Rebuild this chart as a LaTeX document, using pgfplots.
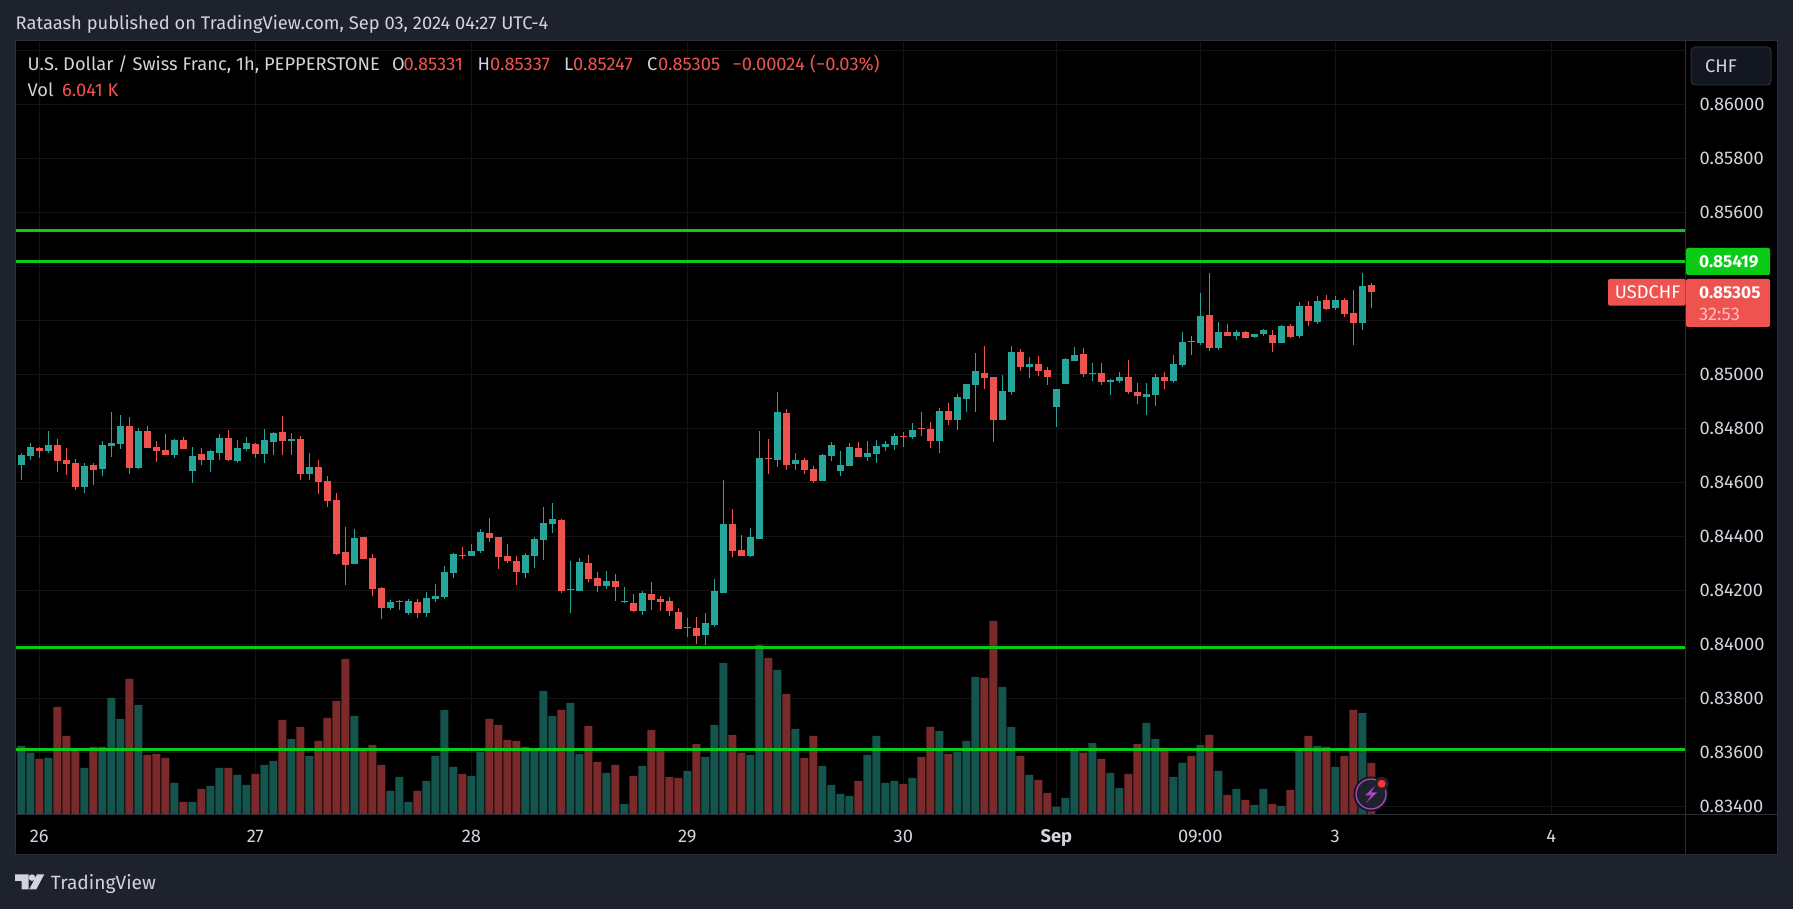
\documentclass[border=0pt]{standalone}
\usepackage{fontspec}
\setmainfont{Fira Sans}
\usepackage{pgfplots}
\usepackage{pgfplotstable}
\pgfplotsset{compat=1.18}
\usetikzlibrary{calc}

\definecolor{panelbg}{RGB}{30,34,45}
\definecolor{frameln}{RGB}{42,46,57}
\definecolor{gridln}{RGB}{20,20,20}
\definecolor{upc}{RGB}{38,166,154}
\definecolor{dnc}{RGB}{239,83,80}
\definecolor{upv}{RGB}{21,83,77}
\definecolor{dnv}{RGB}{122,42,42}
\definecolor{lvl}{RGB}{10,204,22}
\definecolor{txt}{RGB}{209,212,220}
\definecolor{boltc}{RGB}{171,71,188}

% i open high low close volume  (prices in 1e-5)
\pgfplotstableread{
i o h l c v
0 84664 84709 84609 84701 8058
1 84698 84746 84683 84731 7229
3 84716 84790 84709 84738 6636
7 84583 84672 84561 84661 5451
9 84649 84753 84623 84738 7940
10 84735 84861 84694 84746 13746
11 84742 84849 84723 84809 11258
13 84653 84801 84649 84790 12917
17 84701 84761 84690 84757 3674
19 84642 84731 84598 84698 1422
21 84683 84720 84638 84716 3318
22 84709 84779 84683 84764 5451
24 84679 84757 84672 84727 4622
25 84723 84768 84716 84746 3437
27 84705 84798 84672 84757 5807
28 84749 84786 84701 84783 6281
30 84753 84783 84701 84761 8888
32 84631 84709 84609 84657 6873
37 84298 84427 84298 84394 11613
41 84135 84164 84127 84157 2726
42 84157 84164 84127 84160 4385
43 84116 84168 84109 84160 1422
45 84116 84194 84101 84172 3911
46 84168 84224 84157 84179 6873
47 84175 84290 84168 84268 12324
48 84264 84338 84246 84335 5570
50 84327 84372 84327 84346 4503
51 84346 84427 84338 84416 7347
56 84264 84338 84246 84331 7940
57 84327 84398 84283 84390 7584
58 84386 84509 84312 84449 14576
59 84446 84524 84412 84464 11613
61 84201 84309 84116 84205 13154
62 84198 84320 84198 84305 7110
65 84216 84272 84205 84235 4859
67 84157 84212 84153 84160 1185
69 84123 84198 84109 84190 5688
74 84060 84097 84027 84064 5096
76 84035 84116 83998 84079 6755
77 84072 84242 84064 84198 10547
78 84190 84609 84190 84446 17894
81 84327 84431 84323 84398 6992
82 84390 84790 84390 84690 20027
84 84683 84935 84657 84860 17064
86 84668 84709 84646 84683 10073
89 84605 84705 84605 84701 5688
90 84697 84749 84679 84738 3437
91 84642 84716 84623 84664 2370
92 84660 84746 84660 84731 2133
94 84694 84753 84679 84709 6992
95 84705 84757 84672 84735 9243
96 84731 84753 84716 84742 3674
97 84738 84783 84720 84772 3911
99 84768 84820 84760 84794 4266
102 84753 84875 84709 84864 9836
104 84831 84927 84794 84916 7347
105 84909 84964 84860 84964 8651
106 84960 85079 84860 85012 16235
109 84831 84998 84831 84938 15050
110 84935 85105 84924 85083 10310
112 85027 85064 84986 85038 4622
115 84879 84946 84805 84946 830
116 84964 85060 84964 85057 1896
117 85049 85101 85049 85072 7584
119 85001 85042 84975 85005 8414
121 84972 84983 84924 84979 4859
122 84975 85009 84968 84990 3081
125 84916 84968 84849 84927 10784
126 84924 85001 84883 84990 8888
128 84975 85072 84968 85038 4385
129 85035 85157 85027 85120 6044
131 85116 85301 85109 85216 8177
133 85098 85194 85090 85157 5096
135 85142 85164 85127 85157 2963
137 85138 85149 85135 85149 1067
138 85149 85168 85142 85164 2963
140 85116 85183 85116 85179 948
142 85142 85268 85135 85253 7584
144 85194 85290 85186 85272 8058
146 85246 85290 85238 85275 5570
149 85190 85375 85164 85327 11969
}\upc

\pgfplotstableread{
i o h l c v
2 84727 84731 84690 84716 6518
4 84738 84761 84638 84679 12680
5 84683 84727 84627 84668 9243
6 84672 84686 84572 84583 7584
8 84664 84672 84590 84646 7940
12 84809 84842 84631 84653 15998
14 84790 84809 84727 84727 6992
15 84731 84753 84675 84716 7110
16 84720 84779 84701 84701 6636
18 84757 84768 84723 84723 1422
20 84705 84727 84664 84683 2963
23 84764 84794 84679 84683 5451
26 84742 84746 84690 84705 4740
29 84786 84846 84701 84753 11139
31 84761 84772 84609 84631 10310
33 84657 84683 84557 84601 8651
34 84605 84623 84509 84531 11376
35 84535 84561 84331 84335 13391
36 84342 84435 84220 84294 18368
38 84398 84398 84316 84316 7584
39 84320 84335 84179 84205 8177
40 84209 84212 84094 84135 5807
44 84157 84168 84097 84116 2726
49 84331 84361 84316 84327 4740
52 84412 84468 84379 84394 11258
53 84398 84398 84279 84323 10547
54 84327 84372 84301 84309 8769
55 84309 84327 84220 84268 8651
60 84461 84464 84190 84198 12324
63 84301 84331 84231 84242 10428
64 84246 84268 84194 84216 6162
66 84235 84261 84160 84212 5807
68 84153 84186 84120 84123 4503
70 84186 84231 84127 84164 9954
71 84168 84179 84123 84157 7584
72 84160 84175 84105 84123 4385
73 84120 84135 84057 84057 4266
75 84060 84101 84001 84031 8295
79 84446 84501 84323 84346 9362
80 84349 84405 84327 84327 7229
83 84690 84760 84631 84686 18486
85 84857 84872 84646 84664 14220
87 84683 84690 84631 84646 6636
88 84649 84660 84597 84605 9243
93 84727 84749 84694 84694 3911
98 84772 84786 84731 84768 3555
100 84801 84860 84772 84797 6755
101 84797 84823 84727 84753 10310
103 84864 84894 84812 84831 7110
107 85005 85105 84946 84986 16116
108 84990 84990 84749 84831 22871
111 85083 85094 85012 85027 6873
113 85038 85068 84994 85012 4029
114 85016 85027 84960 84990 2489
118 85075 85098 84990 85001 7229
120 85005 85042 84960 84972 6518
123 84990 85053 84927 84935 4740
124 84935 84968 84890 84920 8295
127 84990 85009 84946 84975 7584
130 85124 85142 85072 85120 6873
132 85220 85375 85086 85098 9362
134 85157 85186 85142 85142 2252
136 85157 85160 85135 85135 1659
139 85146 85164 85083 85116 1185
141 85179 85186 85135 85138 2844
143 85253 85272 85179 85198 9243
145 85275 85294 85238 85242 7940
147 85275 85283 85212 85224 6873
148 85227 85312 85109 85190 12324
150 85331 85337 85247 85305 6041
}\dnc

\pgfplotsset{
  chartbox/.style={
    at={(16pt,95pt)}, anchor=south west, scale only axis,
    width=1669.5pt, height=772pt,
    xmin=-0.592, xmax=184.91,
  },
  wick/.style={draw=none, mark=none, forget plot,
    error bars/.cd, y dir=both, y explicit, error mark=none,
    error bar style={line width=1pt, draw=#1}},
  body/.style={draw=none, mark=none, forget plot,
    error bars/.cd, y dir=both, y explicit, error mark=none,
    error bar style={line width=7pt, draw=#1}},
}

\begin{document}
\begin{tikzpicture}
\path[use as bounding box] (0,0) rectangle (1793pt,909pt);
\fill[panelbg] (0,0) rectangle (1793pt,909pt);
\begin{scope}[shift={(0,909pt)},x=1pt,y=-1pt]
  \fill[black] (15.5,40.5) rectangle (1777,855);
  \draw[frameln,line width=1pt] (15.5,40.5) rectangle (1777,855);
\end{scope}

% price scale: grid and tick labels
\begin{axis}[chartbox,
  ymin=83371.5, ymax=86230.7,
  axis line style={draw=none},
  major tick length=0pt,
  scaled y ticks=false,
  grid=major, grid style={gridln,line width=1pt},
  xtick={2,26,50,74,98,115,131,146,170},
  xticklabels={26,27,28,29,30,\textbf{Sep},09:00,3,4},
  x tick label style={anchor=base,yshift=-28.5pt,text=txt,font=\fontsize{18.3}{20}\selectfont},
  ytick={83400,83600,83800,84000,84200,84400,84600,84800,85000,85200,85400,85600,85800,86000,86200},
  yticklabels={0.83400,0.83600,0.83800,0.84000,0.84200,0.84400,0.84600,0.84800,0.85000,,,0.85600,0.85800,0.86000,},
  yticklabel pos=right,
  y tick label style={anchor=west,inner sep=0pt,xshift=14pt,text=txt,font=\fontsize{18.3}{20}\selectfont},
]
\end{axis}

% volume
\begin{axis}[chartbox, hide axis, ymin=0, ymax=91443, ybar, bar width=8pt, bar shift=0pt]
\addplot[fill=upv,draw=none] table[x=i,y=v] {\upc};
\addplot[fill=dnv,draw=none] table[x=i,y=v] {\dnc};
\end{axis}

% candles and levels
\begin{axis}[chartbox, hide axis, ymin=83371.5, ymax=86230.7]
\addplot[wick=upc] table[x=i,y=o,y error plus expr=\thisrow{h}-\thisrow{o},y error minus expr=\thisrow{o}-\thisrow{l}] {\upc};
\addplot[wick=dnc] table[x=i,y=o,y error plus expr=\thisrow{h}-\thisrow{o},y error minus expr=\thisrow{o}-\thisrow{l}] {\dnc};
\addplot[body=upc] table[x=i,y=o,y error plus expr=\thisrow{c}-\thisrow{o},y error minus expr=0] {\upc};
\addplot[body=dnc] table[x=i,y=o,y error plus expr=0,y error minus expr=\thisrow{o}-\thisrow{c}] {\dnc};
\addplot[lvl,line width=3pt] coordinates {(-0.592,85533) (184.91,85533)};
\addplot[lvl,line width=3pt] coordinates {(-0.592,85419) (184.91,85419)};
\addplot[lvl,line width=3pt] coordinates {(-0.592,83989) (184.91,83989)};
\addplot[lvl,line width=3pt] coordinates {(-0.592,83611) (184.91,83611)};
\end{axis}

\begin{scope}[shift={(0,909pt)},x=1pt,y=-1pt,every node/.style={inner sep=0pt,anchor=base west,font=\fontsize{18.3}{20}\selectfont}]
  \draw[frameln,line width=1pt] (1685.5,41) -- (1685.5,855);
  \draw[frameln,line width=1pt] (16,814.5) -- (1777,814.5);
  % header
  \node[text=txt] at (15.5,29.5) {Rataash published on TradingView.com, Sep 03, 2024 04:27 UTC-4};
  \node[text=txt] at (27.5,70.5) {U.S. Dollar / Swiss Franc, 1h, PEPPERSTONE};
  \node[text=txt] at (392,70.5) {O};
  \node[text=dnc] at (403.5,70.5) {0.85331};
  \node[text=txt] at (477.5,70.5) {H};
  \node[text=dnc] at (490,70.5) {0.85337};
  \node[text=txt] at (564,70.5) {L};
  \node[text=dnc] at (573,70.5) {0.85247};
  \node[text=txt] at (647,70.5) {C};
  \node[text=dnc] at (658,70.5) {0.85305};
  \node[text=dnc] at (732.5,70.5) {−0.00024};
  \node[text=dnc] at (810,70.5) {(−0.03\%)};
  \node[text=txt] at (27.5,96.5) {Vol};
  \node[text=dnc] at (62,96.5) {6.041 K};
  % currency button
  \draw[frameln,fill={rgb,255:red,19;green,23;blue,34},rounded corners=4pt,line width=1pt] (1691,47) rectangle (1771,85);
  \node[text=txt] at (1705,72.5) {CHF};
  % last price and level labels
  \fill[lvl,rounded corners=1.5pt] (1686,248) rectangle (1770,275);
  \node[text=white,font=\fontsize{17.2}{20}\selectfont\bfseries] at (1699,268) {0.85419};
  \fill[dnc,rounded corners=2pt] (1608,279) rectangle (1685.5,305.7);
  \node[text=white] at (1614.7,299) {USDCHF};
  \fill[dnc,rounded corners=2pt] (1686,279) rectangle (1770,327);
  \node[text=white,font=\fontsize{17.2}{20}\selectfont\bfseries] at (1699,299) {0.85305};
  \node[text={rgb,255:red,255;green,190;blue,190}] at (1699,320.5) {32:53};
  % bolt badge
  \fill[panelbg!60!black] (1371,794) circle (17.5);
  \fill[panelbg] (1371,794) circle (14.5);
  \draw[boltc,line width=1.3pt] (1371,794) circle (15);
  \fill[boltc] (1375,786) -- (1365,795.5) -- (1371,795.5) -- (1366,803) -- (1377,792.5) -- (1371,792.5) -- cycle;
  \fill[panelbg] (1381.7,783.7) circle (7);
  \fill[red!80!white] (1381.7,783.7) circle (4);
  % logo
  \fill[txt] (15,874.3) -- (28.5,874.3) -- (28.5,889.3) -- (21.5,889.3) -- (21.5,880.8) -- (15,880.8) -- cycle;
  \fill[txt] (32,877.6) circle (3.3);
  \fill[txt] (37,874.3) -- (44.3,874.3) -- (36.3,889.3) -- (29.3,889.3) -- cycle;
  \node[text=txt,font=\fontsize{19.2}{22}\selectfont] at (50.7,890) {TradingView};
\end{scope}
\end{tikzpicture}
\end{document}
